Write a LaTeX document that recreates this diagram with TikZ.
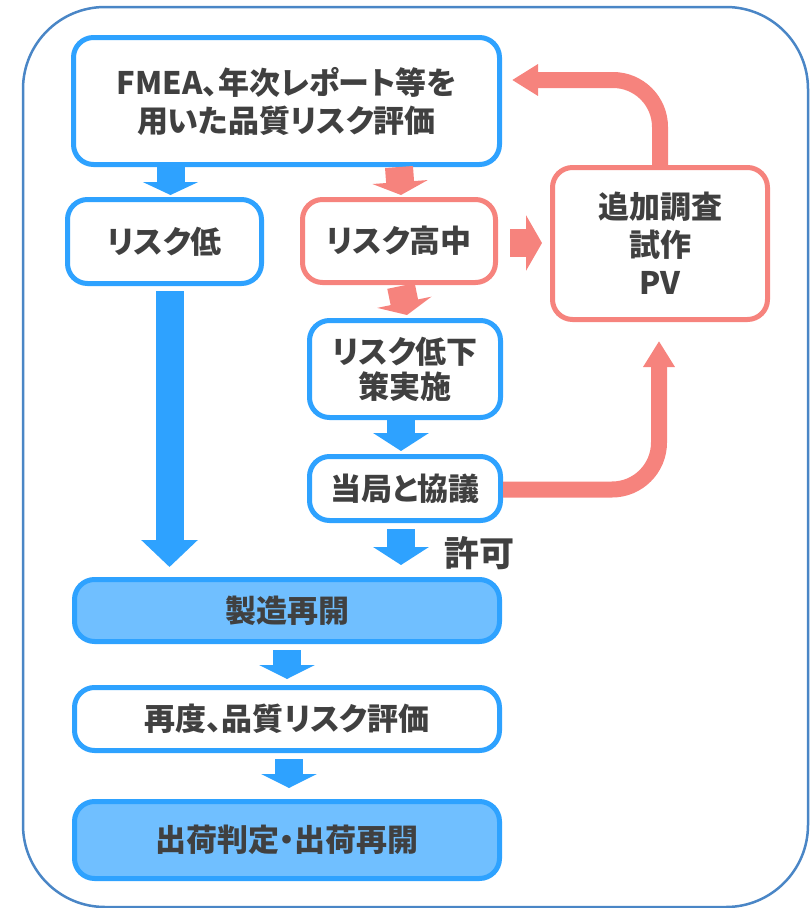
\documentclass[tikz,border=0pt]{standalone}
\usepackage{fontspec}
\newfontfamily\jp{Noto Sans CJK JP}[RawFeature=+palt]
\usetikzlibrary{arrows.meta,calc}
\definecolor{bblue}{HTML}{2EA2FF}
\definecolor{bfill}{HTML}{70BFFF}
\definecolor{pinkc}{HTML}{F6837D}
\definecolor{txtc}{HTML}{404040}
\definecolor{framec}{HTML}{4A86C6}
\begin{document}
\begin{tikzpicture}[x=1pt,y=-1pt,
  box/.style={draw, line width=5pt, rounded corners=20pt, fill=white, inner sep=0pt,
    align=center, text=txtc, font=\jp\bfseries\fontsize{31}{38}\selectfont},
  bluebox/.style={box, draw=bblue},
  pinkbox/.style={box, draw=pinkc},
  fillbox/.style={box, draw=bblue, fill=bfill},
  barrow/.style={draw=bblue, line width=28pt, -{Triangle[width=55pt,length=#1]}},
  parrow/.style={draw=pinkc, line width=28pt, -{Triangle[width=55pt,length=#1]}},
  pcurve/.style={draw=pinkc, line width=16pt, rounded corners=47pt, -{Triangle[width=30pt,length=26pt]}},
]
\useasboundingbox (0,0) rectangle (811,908);
\draw[framec, line width=2.5pt, rounded corners=82pt] (23,7) rectangle (808,907);

\node[bluebox, minimum width=426pt, minimum height=127pt] (fmea) at (286.5,101) {FMEA、年次レポート等を\\用いた品質リスク評価};
\node[bluebox, minimum width=194pt, minimum height=84pt] (low) at (164.5,241.5) {リスク低};
\node[pinkbox, minimum width=193pt, minimum height=83pt] (koch) at (399,241) {リスク高中};
\node[pinkbox, minimum width=215pt, minimum height=152pt] (tsuika) at (660,243.5) {追加調査\\試作\\PV};
\node[bluebox, minimum width=191pt, minimum height=97pt, font=\jp\bfseries\fontsize{31}{35}\selectfont] (gen) at (405,369) {リスク低下\\策実施};
\node[bluebox, minimum width=191pt, minimum height=64pt] (tou) at (405,488.5) {当局と協議};
\node[fillbox, minimum width=425pt, minimum height=62pt] (seizou) at (287,610.5) {製造再開};
\node[bluebox, minimum width=425pt, minimum height=63pt] (saido) at (287,719) {再度、品質リスク評価};
\node[fillbox, minimum width=425pt, minimum height=77pt] (shukka) at (287,840) {出荷判定・出荷再開};
\node[text=txtc, font=\jp\bfseries\fontsize{35}{38}\selectfont, inner sep=0pt] (kyoka) at (479,553) {許可};

% blue straight arrows
\draw[barrow=13pt] ([xshift=6pt]fmea.south -| low.south) -- ([shift={(6pt,2pt)}]low.north);
\draw[barrow=27pt] ([shift={(5pt,-5pt)}]low.south) -- ([xshift=5pt,yshift=10pt]low.south |- seizou.north);
\draw[barrow=18pt] ([shift={(-4pt,3pt)}]gen.south) -- ([shift={(-4pt,3pt)}]tou.north);
\draw[barrow=18pt] ([shift={(-4pt,-6pt)}]tou.south) -- ([xshift=-4pt,yshift=12pt]tou.south |- seizou.north);
\draw[barrow=14pt] ([yshift=-6pt]seizou.south) -- ([yshift=6pt]saido.north);
\draw[barrow=14pt] ([shift={(2pt,-6pt)}]saido.south) -- ([shift={(2pt,11pt)}]shukka.north);

% pink straight arrows
\draw[parrow=13pt] (fmea.south -| koch.south) -- ([xshift=2pt,yshift=2pt]koch.north);
\draw[parrow=13pt] ([shift={(2pt,-1pt)}]koch.south) -- ([shift={(2pt,3pt)}]gen.north);
\draw[parrow=16pt] ([xshift=12pt,yshift=-2pt]koch.east) -- ([xshift=-8pt,yshift=-2pt]koch.east -| tsuika.west);

% pink curved arrows
\draw[pcurve] (tsuika.north) |- ([shift={(10pt,21pt)}]fmea.east);
\draw[pcurve] ([yshift=-1pt]tou.east) -| ([xshift=-1pt,yshift=-19pt]tsuika.south);
\end{tikzpicture}
\end{document}
